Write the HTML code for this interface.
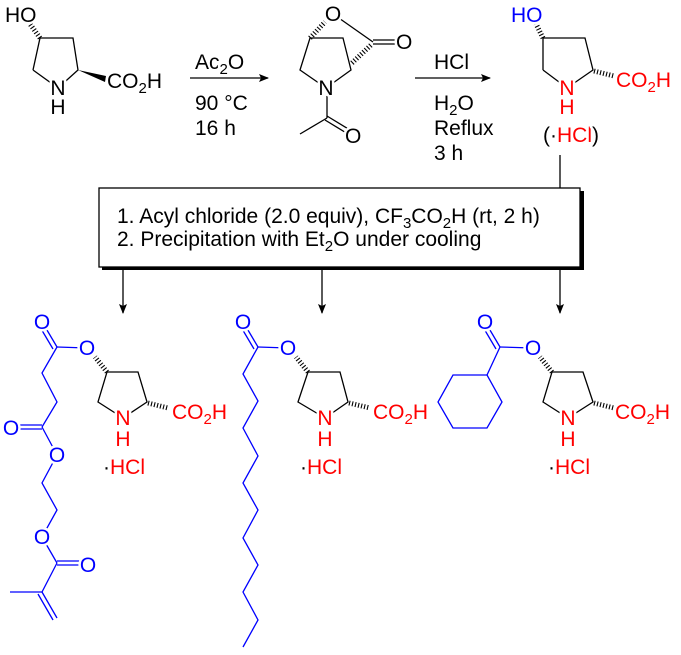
<!DOCTYPE html>
<html><head><meta charset="utf-8"><style>
html,body{margin:0;padding:0;background:#fff;width:681px;height:655px;overflow:hidden}
svg{display:block}
text{font-family:"Liberation Sans",Arial,sans-serif;font-size:21px;paint-order:stroke;stroke:#fff;stroke-width:5px;stroke-linejoin:round}
.m{text-anchor:middle}
.b{stroke:#000;stroke-width:1.3;fill:none}
.bl{stroke:#0000ff;stroke-width:1.3;fill:none}
.h{stroke:#000;stroke-width:5;stroke-dasharray:1.1 2;fill:none}
.r{fill:#ff0000}.u{fill:#0000ff}
tspan.s{font-size:15px}
.w{fill:#fff;stroke:none}
</style></head><body>
<svg width="681" height="655" viewBox="0 0 681 655">
<defs><marker id="ar" markerWidth="10" markerHeight="8" refX="9" refY="4" orient="auto" markerUnits="userSpaceOnUse"><path d="M0,0 L10,4 L0,8 L2,4z" fill="#000"/></marker></defs>

<!-- molecule 1 -->
<polyline class="b" points="33,70 40,38 73,38 78,70 58,88 33,70"/>
<line class="h" x1="40" y1="38" x2="30" y2="24"/>
<polygon points="78,70 106,76 105,82" fill="#000"/>
<circle class="w" cx="58" cy="88" r="8"/>
<text x="5" y="22">HO</text>
<text class="m" x="58" y="95">N</text>
<text class="m" x="58" y="114">H</text>
<text x="107" y="88">CO<tspan class="s" dy="5">2</tspan><tspan dy="-5">H</tspan></text>

<!-- arrow 1 -->
<line class="b" x1="190" y1="78" x2="268" y2="78" marker-end="url(#ar)"/>
<text x="195" y="69">Ac<tspan class="s" dy="5">2</tspan><tspan dy="-5">O</tspan></text>
<text x="195" y="110">90 °C</text>
<text x="195" y="135">16 h</text>

<!-- lactone -->
<polyline class="b" points="326,88 300,70 310,38 343,38 351,70 326,88"/>
<line class="h" x1="310" y1="38" x2="325" y2="22"/>
<line class="b" x1="336" y1="16" x2="373" y2="42"/>
<line class="h" x1="352" y1="63" x2="371" y2="45"/>
<line class="b" x1="373" y1="40" x2="397" y2="40"/>
<line class="b" x1="373" y1="44" x2="397" y2="44"/>
<line class="b" x1="327" y1="92" x2="327" y2="118"/>
<line class="b" x1="327" y1="118" x2="300" y2="134"/>
<line class="b" x1="327" y1="116" x2="350" y2="130"/>
<line class="b" x1="325" y1="120" x2="348" y2="134"/>
<circle class="w" cx="333" cy="13" r="8"/>
<circle class="w" cx="326" cy="88" r="8"/>
<circle class="w" cx="353" cy="135" r="8"/>
<text class="m" x="333" y="21">O</text>
<text x="396" y="49">O</text>
<text class="m" x="326" y="95">N</text>
<text x="345" y="143">O</text>

<!-- arrow 2 -->
<line class="b" x1="415" y1="78" x2="490" y2="78" marker-end="url(#ar)"/>
<text x="434" y="69">HCl</text>
<text x="434" y="110">H<tspan class="s" dy="5">2</tspan><tspan dy="-5">O</tspan></text>
<text x="434" y="135">Reflux</text>
<text x="434" y="160">3 h</text>

<!-- product top -->
<polyline class="b" points="543,70 543,38 585,38 593,70 567,88 543,70"/>
<line class="h" x1="543" y1="38" x2="536" y2="24"/>
<line class="h" x1="594" y1="71" x2="614" y2="76"/>
<circle class="w" cx="567" cy="88" r="8"/>
<text class="u" x="511" y="22">HO</text>
<text class="r m" x="567" y="95">N</text>
<text class="r m" x="567" y="114">H</text>
<text class="r" x="616" y="87">CO<tspan class="s" dy="5">2</tspan><tspan dy="-5">H</tspan></text>
<text x="543" y="142">(·<tspan fill="#ff0000">HCl</tspan>)</text>

<!-- connectors -->
<line class="b" x1="560" y1="155" x2="560" y2="188"/>
<rect x="102" y="191" width="482" height="79" fill="#000"/>
<rect x="99" y="188" width="481" height="79" fill="#fff" stroke="#000" stroke-width="1.3"/>
<text x="117" y="223">1. Acyl chloride (2.0 equiv), CF<tspan class="s" dy="5">3</tspan><tspan dy="-5">CO</tspan><tspan class="s" dy="5">2</tspan><tspan dy="-5">H (rt, 2 h)</tspan></text>
<text x="117" y="246">2. Precipitation with Et<tspan class="s" dy="5">2</tspan><tspan dy="-5">O under cooling</tspan></text>
<line class="b" x1="123" y1="270" x2="123" y2="313" marker-end="url(#ar)"/>
<line class="b" x1="322" y1="270" x2="322" y2="313" marker-end="url(#ar)"/>
<line class="b" x1="560" y1="270" x2="560" y2="313" marker-end="url(#ar)"/>

<!-- bottom left -->
<polyline class="b" points="123,418 98,402 107,372 138,372 147,402 123,418"/>
<line class="h" x1="107" y1="372" x2="95" y2="357"/>
<line class="h" x1="148" y1="403" x2="168" y2="408"/>
<g class="bl">
<line x1="57" y1="347" x2="87" y2="348"/>
<line x1="57" y1="347" x2="44" y2="325"/><line x1="53" y1="349" x2="40" y2="327"/>
<polyline points="57,347 42,373 57,402 42,427"/>
<line x1="42" y1="425" x2="12" y2="425"/><line x1="42" y1="429" x2="12" y2="429"/>
<polyline points="42,427 57,455 42,483 57,510 42,537 57,563"/>
<line x1="57" y1="561" x2="85" y2="561"/><line x1="57" y1="565" x2="85" y2="565"/>
<polyline points="57,563 42,592 10,592"/>
<line x1="42" y1="592" x2="57" y2="618"/><line x1="38" y1="594" x2="53" y2="620"/>
</g>
<g class="w">
<circle cx="123" cy="418" r="8"/>
<circle cx="42" cy="322" r="8"/><circle cx="87" cy="348" r="8"/><circle cx="11" cy="428" r="8"/>
<circle cx="57" cy="455" r="8"/><circle cx="42" cy="537" r="8"/><circle cx="88" cy="565" r="8"/>
</g>
<text class="r m" x="123" y="425">N</text>
<text class="r m" x="123" y="446">H</text>
<text class="r" x="172" y="419">CO<tspan class="s" dy="5">2</tspan><tspan dy="-5">H</tspan></text>
<text x="103" y="474">·<tspan fill="#ff0000">HCl</tspan></text>
<text class="u m" x="42" y="329">O</text>
<text class="u m" x="87" y="355">O</text>
<text class="u m" x="11" y="435">O</text>
<text class="u m" x="57" y="462">O</text>
<text class="u m" x="42" y="544">O</text>
<text class="u m" x="88" y="572">O</text>

<!-- bottom middle -->
<polyline class="b" points="325,418 298,402 308,372 340,372 348,402 325,418"/>
<line class="h" x1="308" y1="372" x2="296" y2="357"/>
<line class="h" x1="349" y1="403" x2="370" y2="408"/>
<g class="bl">
<line x1="258" y1="347" x2="288" y2="348"/>
<line x1="258" y1="347" x2="245" y2="325"/><line x1="254" y1="349" x2="241" y2="327"/>
<polyline points="258,347 243,374 258,401 243,428 258,456 243,483 258,510 243,538 258,565 243,592 258,620 243,647"/>
</g>
<g class="w">
<circle cx="325" cy="418" r="8"/><circle cx="243" cy="322" r="8"/><circle cx="288" cy="348" r="8"/>
</g>
<text class="r m" x="325" y="425">N</text>
<text class="r m" x="325" y="446">H</text>
<text class="r" x="373" y="419">CO<tspan class="s" dy="5">2</tspan><tspan dy="-5">H</tspan></text>
<text x="300" y="474">·<tspan fill="#ff0000">HCl</tspan></text>
<text class="u m" x="243" y="329">O</text>
<text class="u m" x="288" y="355">O</text>

<!-- bottom right -->
<polyline class="b" points="568,418 543,402 552,372 583,372 593,402 568,418"/>
<line class="h" x1="552" y1="372" x2="540" y2="357"/>
<line class="h" x1="594" y1="403" x2="614" y2="408"/>
<g class="bl">
<line x1="500" y1="347" x2="533" y2="348"/>
<line x1="500" y1="347" x2="487" y2="325"/><line x1="496" y1="349" x2="483" y2="327"/>
<line x1="500" y1="347" x2="487" y2="375"/>
<polygon points="487,375 502,402 487,428 453,428 438,402 453,375"/>
</g>
<g class="w">
<circle cx="568" cy="418" r="8"/><circle cx="485" cy="322" r="8"/><circle cx="533" cy="348" r="8"/>
</g>
<text class="r m" x="568" y="425">N</text>
<text class="r m" x="568" y="446">H</text>
<text class="r" x="615" y="419">CO<tspan class="s" dy="5">2</tspan><tspan dy="-5">H</tspan></text>
<text x="548" y="474">·<tspan fill="#ff0000">HCl</tspan></text>
<text class="u m" x="485" y="329">O</text>
<text class="u m" x="533" y="355">O</text>
</svg>
</body></html>
